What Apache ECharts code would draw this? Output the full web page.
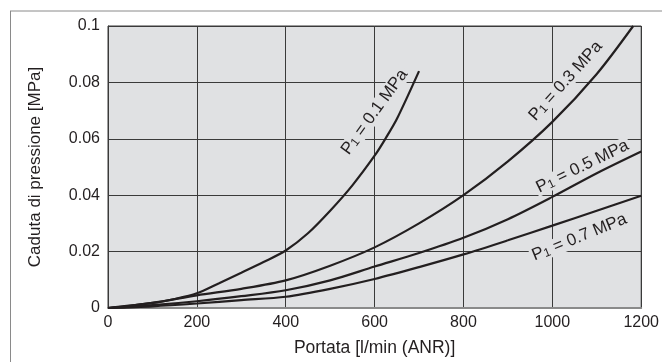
<!DOCTYPE html>
<html>
<head>
<meta charset="utf-8">
<script src="https://cdn.jsdelivr.net/npm/echarts@6/dist/echarts.min.js"></script>
<style>
  html, body { margin: 0; padding: 0; background: #fff; }
  #chart { width: 662px; height: 362px; }
</style>
</head>
<body>
<div id="chart"></div>
<script>
// curves: [flow l/min, pressure drop MPa]
let p01 = [[0, 0], [50, 0.0008], [100, 0.0018], [150, 0.0032], [200, 0.0052], [250, 0.0088], [300, 0.0125], [350, 0.0163], [400, 0.0204], [450, 0.0265], [500, 0.0345], [550, 0.0435], [600, 0.054], [625, 0.0602], [650, 0.067], [700, 0.084]];
let p03 = [[0, 0], [100, 0.0018], [200, 0.0045], [300, 0.0068], [400, 0.0098], [500, 0.015], [600, 0.0215], [700, 0.030], [800, 0.040], [900, 0.052], [1000, 0.066], [1100, 0.083], [1182, 0.1]];
let p05 = [[0, 0], [100, 0.001], [200, 0.0024], [300, 0.0042], [400, 0.0063], [500, 0.0098], [600, 0.0147], [700, 0.0195], [800, 0.0249], [900, 0.0315], [1000, 0.0394], [1100, 0.0478], [1200, 0.0555]];
let p07 = [[0, 0], [100, 0.0006], [200, 0.0016], [300, 0.0028], [400, 0.004], [500, 0.0068], [600, 0.0103], [700, 0.0145], [800, 0.019], [900, 0.024], [1000, 0.0292], [1100, 0.0345], [1200, 0.0398]];

// curve labels: text, anchor (data units), angle
let labelText = ['0.1', '0.3', '0.5', '0.7'];
let labelPos = [[600, 0.0695], [1030, 0.0805], [1068, 0.0502], [1061, 0.0251]];
let labelRot = [54, 48, 26, 22];

const plotBg = '#e0e1e3';
const ink = '#231f20';

function curve(name, data) {
  return {
    name: name,
    type: 'line',
    z: 3,
    data: data,
    smooth: 0.3,
    symbol: 'none',
    lineStyle: { color: ink, width: 2.2 }
  };
}

let labelData = labelPos.map((p, i) => ({
  value: p,
  label: {
    rotate: labelRot[i],
    formatter: '{a|P}{s|1}{a| = ' + labelText[i] + ' MPa}'
  }
}));

let chart = echarts.init(document.getElementById('chart'), null, { renderer: 'canvas' });
chart.setOption({
  animation: false,
  textStyle: { fontFamily: 'Liberation Sans' },
  grid: {
    left: 108, top: 26, right: 19, bottom: 49,
    show: true,
    backgroundColor: plotBg,
    borderColor: '#3a3a3a',
    borderWidth: 1
  },
  xAxis: {
    type: 'value',
    min: 0, max: 1200, interval: 200,
    name: 'Portata [l/min (ANR)]',
    nameLocation: 'middle',
    nameGap: 31,
    nameTextStyle: { fontSize: 17.5, color: ink, fontFamily: 'Liberation Sans' },
    axisLine: { show: true, lineStyle: { color: '#8a8a8a', width: 2 } },
    axisTick: { show: false },
    axisLabel: { fontSize: 16, color: ink, margin: 7, fontFamily: 'Liberation Sans', formatter: v => String(v) },
    splitLine: { show: true, lineStyle: { color: '#3a3a3a', width: 1 } }
  },
  yAxis: {
    type: 'value',
    min: 0, max: 0.1, interval: 0.02,
    name: 'Caduta di pressione [MPa]',
    nameLocation: 'middle',
    nameGap: 64,
    nameTextStyle: { fontSize: 17, color: ink, fontFamily: 'Liberation Sans' },
    axisLine: { show: true, lineStyle: { color: '#3a3a3a', width: 1 } },
    axisTick: { show: false },
    axisLabel: { fontSize: 16, color: ink, margin: 8, fontFamily: 'Liberation Sans' },
    splitLine: { show: true, lineStyle: { color: '#3a3a3a', width: 1 } }
  },
  series: [
    curve('0.1', p01),
    curve('0.3', p03),
    curve('0.5', p05),
    curve('0.7', p07),
    {
      name: 'labels',
      type: 'scatter',
      z: 1,
      symbolSize: 0,
      silent: true,
      itemStyle: { opacity: 1 },
      data: labelData,
      label: {
        show: true,
        position: 'inside',
        opacity: 1,
        color: ink,
        backgroundColor: plotBg,
        padding: [0, 2],
        rich: {
          a: { fontFamily: 'Liberation Sans', fontSize: 17, color: ink },
          s: { fontFamily: 'Liberation Sans', fontSize: 12, color: ink, padding: [5, 0, 0, 0] }
        }
      }
    }
  ],
  graphic: [
    { type: 'line', shape: { x1: 10.5, y1: 11, x2: 10.5, y2: 362 }, style: { stroke: '#8a8a8a', lineWidth: 1 } },
    { type: 'line', shape: { x1: 10, y1: 11, x2: 662, y2: 11 }, style: { stroke: '#8a8a8a', lineWidth: 1 } }
  ]
});
</script>
</body>
</html>
